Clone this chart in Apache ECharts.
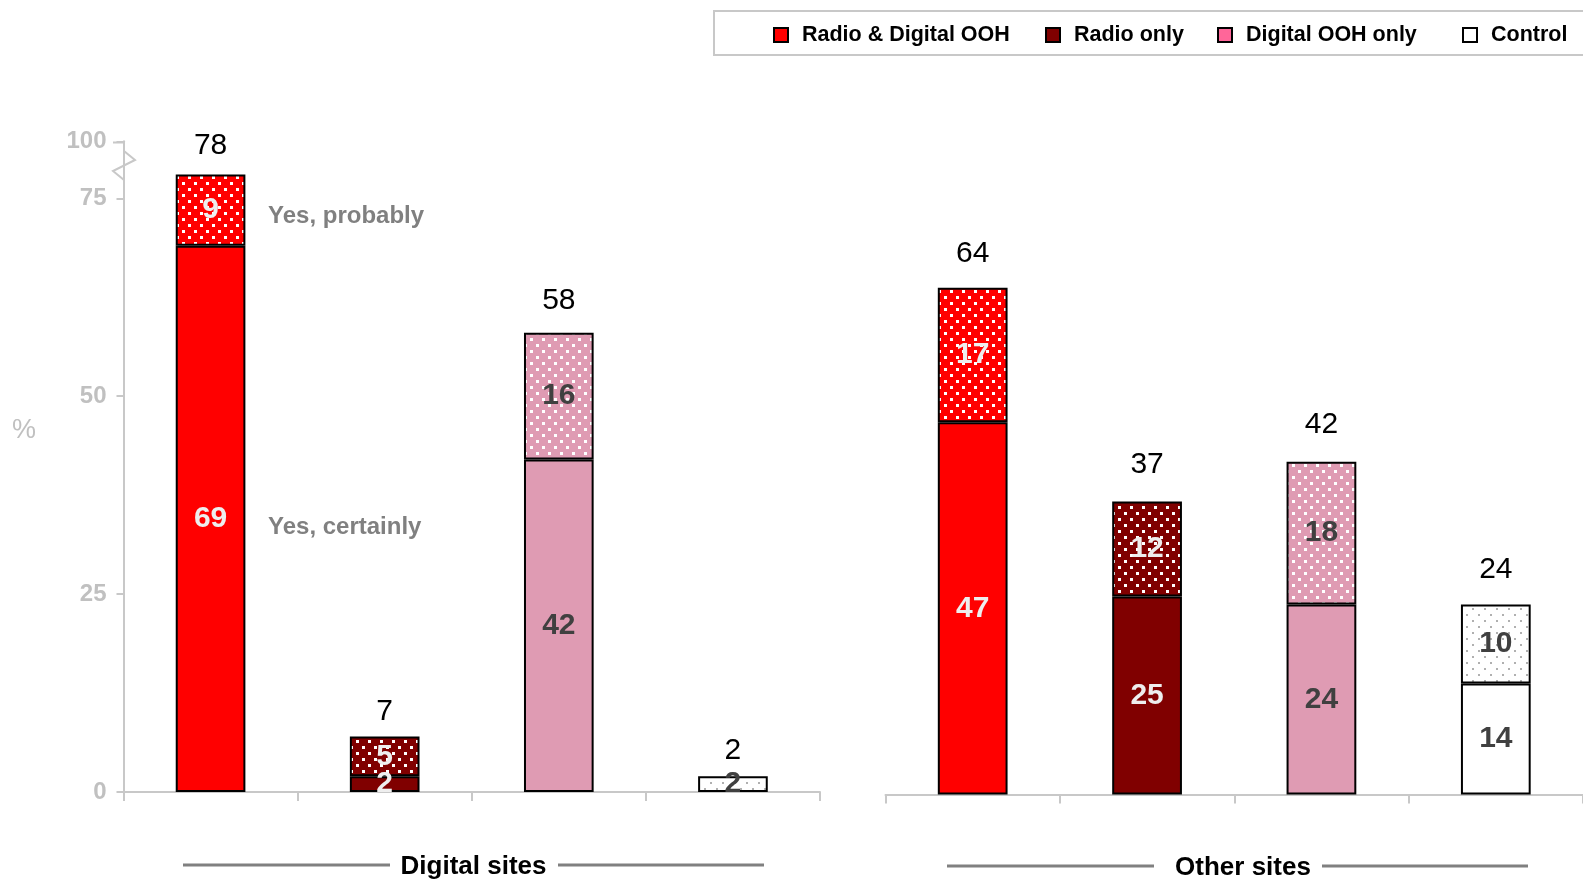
<!DOCTYPE html>
<html>
<head>
<meta charset="utf-8">
<script src="https://cdn.jsdelivr.net/npm/echarts@6/dist/echarts.min.js"></script>
<style>
  html, body { margin: 0; padding: 0; background: #ffffff; }
  #chart { width: 1583px; height: 881px; }
</style>
</head>
<body>
<div id="chart"></div>
<script>
// Groups shown on each panel, in drawing order
const groups = ['Radio & Digital OOH', 'Radio only', 'Digital OOH only', 'Control'];
const panels = ['Digital sites', 'Other sites'];

// % answering "Yes, certainly" (bottom) and "Yes, probably" (top)
const digitalCertain  = [69, 2, 42, 0];
const digitalProbable = [9, 5, 16, 2];
const otherCertain    = [47, 25, 24, 14];
const otherProbable   = [17, 12, 18, 10];

// Value axis ticks; the top of the broken axis is labelled 100
const yTicks = [0, 25, 50, 75];
const yTopLabel = '100';
const yBreakValue = 82.2;

// Colours per group
const legendColors = ['#ff0000', '#800000', '#ff6699', '#ffffff'];
const barColors    = ['#ff0000', '#800000', '#df9bb3', '#ffffff'];
const dotColors    = ['#ffffff', '#ffffff', '#ffffff', '#b0b0b0'];
const labelColors  = ['#eeeeee', '#eeeeee', '#404040', '#404040'];

// Gap between each bar top and its total label, per panel
const totalLabelGap = [[14, 10, 17, 10], [19, 22, 22, 20]];

const FONT = '"Liberation Sans", Arial, Helvetica, sans-serif';

// Dotted fill used for the "Yes, probably" segments
function dotted(bg, dot, size) {
  const c = document.createElement('canvas');
  c.width = 12; c.height = 12;
  const g = c.getContext('2d');
  g.fillStyle = bg; g.fillRect(0, 0, 12, 12);
  g.fillStyle = dot;
  g.fillRect(2, 2, size, size);
  g.fillRect(8, 8, size, size);
  return { image: c, repeat: 'repeat' };
}

function segmentData(values, patterned) {
  return values.map((v, i) => ({
    value: v,
    itemStyle: {
      color: patterned ? dotted(barColors[i], dotColors[i], i === 3 ? 2 : 3) : barColors[i],
      borderWidth: v === 0 ? 0 : 2
    },
    label: { color: labelColors[i] }
  }));
}

function panelSeries(idx, certain, probable) {
  const common = {
    type: 'bar', xAxisIndex: idx, yAxisIndex: idx,
    barWidth: '40%', barGap: '-100%',
    itemStyle: { borderColor: '#000000', borderWidth: 2 },
    label: {
      show: true, position: 'inside', fontFamily: FONT,
      fontSize: 30, fontWeight: 'bold',
      formatter: p => (p.value ? String(p.value) : '')
    },
    silent: true
  };
  const totals = certain.map((v, i) => ({
    value: v + probable[i],
    label: { distance: totalLabelGap[idx][i] }
  }));
  return [
    Object.assign({}, common, { name: 'Yes, certainly ' + idx, stack: 's' + idx, data: segmentData(certain, false) }),
    Object.assign({}, common, { name: 'Yes, probably ' + idx, stack: 's' + idx, data: segmentData(probable, true) }),
    {
      type: 'bar', xAxisIndex: idx, yAxisIndex: idx, barWidth: '40%', barGap: '-100%',
      name: 'Total ' + idx, silent: true, z: 1,
      itemStyle: { color: 'rgba(0,0,0,0)' },
      label: {
        show: true, position: 'top', color: '#000000',
        fontFamily: FONT, fontSize: 30
      },
      data: totals
    }
  ];
}

const axisGrey = '#c8c8c8';

function xAxisFor(idx) {
  return {
    type: 'category', gridIndex: idx, data: groups,
    axisLine: { lineStyle: { color: axisGrey, width: 2 } },
    axisTick: { show: true, length: 9, lineStyle: { color: axisGrey, width: 2 } },
    axisLabel: { show: false }
  };
}

function yAxisFor(idx) {
  return {
    type: 'value', gridIndex: idx, min: 0, max: yBreakValue, interval: 25,
    show: idx === 0,
    splitLine: { show: false },
    axisLine: { show: true, lineStyle: { color: axisGrey, width: 2 } },
    axisTick: { show: true, length: 7, lineStyle: { color: axisGrey, width: 2 } },
    axisLabel: {
      margin: 17, color: '#c0c0c0', fontFamily: FONT, fontSize: 24, fontWeight: 'bold',
      formatter: v => (yTicks.indexOf(v) >= 0 ? String(v) : yTopLabel)
    }
  };
}

const legendLeft = [773, 1045, 1217, 1462];

const chart = echarts.init(document.getElementById('chart'), null, { renderer: 'canvas' });

const option = {
  backgroundColor: '#ffffff',
  animation: false,
  grid: [
    { left: 123.5, top: 141.3, width: 696.5, height: 650.7, outerBoundsMode: 'none' },
    { left: 885.5, top: 143.5, width: 697.5, height: 651, outerBoundsMode: 'none' }
  ],
  xAxis: [xAxisFor(0), xAxisFor(1)],
  yAxis: [yAxisFor(0), yAxisFor(1)],
  legend: groups.map((name, i) => ({
    data: [{ name: name, icon: 'rect', itemStyle: { color: legendColors[i], opacity: 1, borderColor: '#000000', borderWidth: 2 } }],
    left: legendLeft[i], top: 24, padding: 0,
    itemWidth: 14, itemHeight: 14, selectedMode: false,
    textStyle: { fontFamily: FONT, fontSize: 21.5, fontWeight: 'bold', color: '#000000', padding: [0, 0, 0, 9] }
  })),
  series: panelSeries(0, digitalCertain, digitalProbable)
    .concat(panelSeries(1, otherCertain, otherProbable))
    .concat(groups.map((name, i) => ({
      type: 'scatter', name: name, data: [], xAxisIndex: 0, yAxisIndex: 0,
      itemStyle: { color: legendColors[i], opacity: 1 }
    }))),
  graphic: [
    // legend frame
    { type: 'rect', z: -1, shape: { x: 714, y: 11, width: 900, height: 44 },
      style: { fill: '#ffffff', stroke: '#c8c8c8', lineWidth: 2 } },
    // axis break mark at the top of the value axis
    { type: 'polyline', z: 10, shape: { points: [[113, 142.5], [124, 142.5], [124, 151], [135, 160], [113, 171], [124, 180]] },
      style: { fill: null, stroke: axisGrey, lineWidth: 2 } },
    { type: 'text', left: 12, top: 417, style: { text: '%', font: '27px ' + FONT, fill: '#c0c0c0' } },
    { type: 'text', left: 268, top: 204, style: { text: 'Yes, probably', font: 'bold 24px ' + FONT, fill: '#808080' } },
    { type: 'text', left: 268, top: 515, style: { text: 'Yes, certainly', font: 'bold 24px ' + FONT, fill: '#808080' } },
    // panel captions
    { type: 'line', shape: { x1: 183, y1: 865, x2: 390, y2: 865 }, style: { stroke: '#808080', lineWidth: 3 } },
    { type: 'line', shape: { x1: 558, y1: 865, x2: 764, y2: 865 }, style: { stroke: '#808080', lineWidth: 3 } },
    { type: 'text', x: 473.5, y: 867, style: { text: panels[0], font: 'bold 26px ' + FONT, fill: '#000000', align: 'center', verticalAlign: 'middle' } },
    { type: 'line', shape: { x1: 947, y1: 866, x2: 1154, y2: 866 }, style: { stroke: '#808080', lineWidth: 3 } },
    { type: 'line', shape: { x1: 1322, y1: 866, x2: 1528, y2: 866 }, style: { stroke: '#808080', lineWidth: 3 } },
    { type: 'text', x: 1243, y: 868, style: { text: panels[1], font: 'bold 26px ' + FONT, fill: '#000000', align: 'center', verticalAlign: 'middle' } }
  ]
};

chart.setOption(option);
</script>
</body>
</html>
